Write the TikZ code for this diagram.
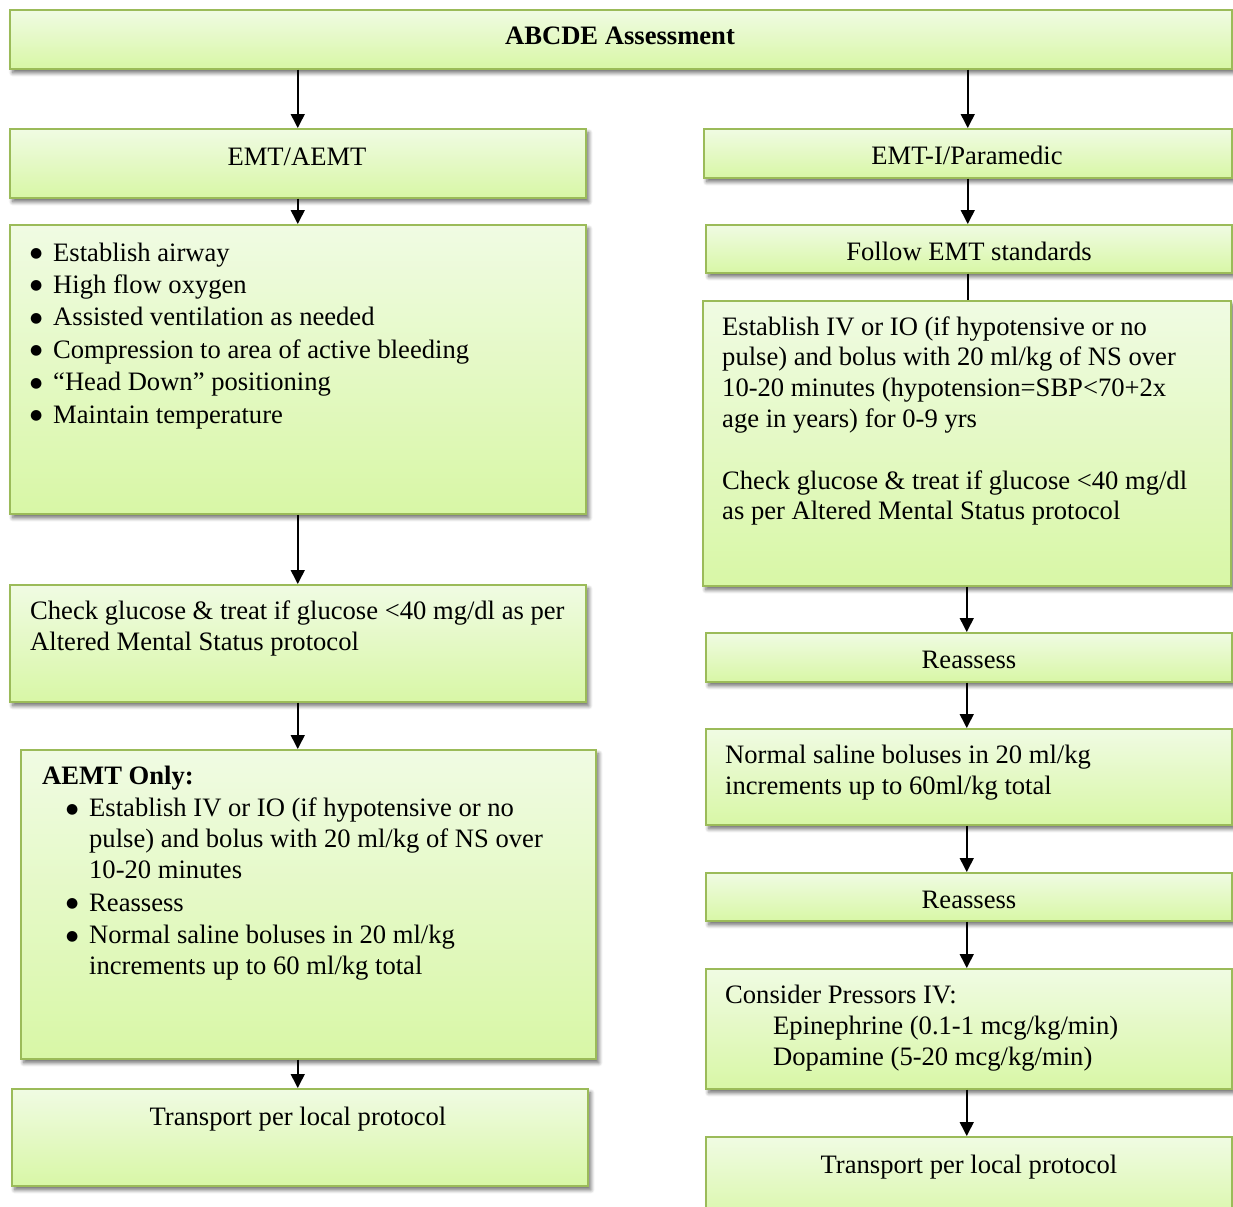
\documentclass[tikz,border=0pt]{standalone}
\usepackage{fontspec}
\setmainfont{Liberation Serif}
\newfontfamily\bulfont{DejaVu Sans}
\usetikzlibrary{arrows.meta,shadows.blur}

\definecolor{boxline}{HTML}{9BBB59}
\definecolor{gtop}{HTML}{F0FBE3}
\definecolor{gbot}{HTML}{D8F7A6}

% round bullet, without height so it does not disturb the lines
\newcommand{\mybul}{\raisebox{3.5bp}[0pt][0pt]{\bulfont\fontsize{14bp}{14bp}\selectfont ●}}
% bullet item: #1 = hanging indent, #2 = offset of the bullet
\newcommand{\bitem}[2]{\noindent\hangindent=#1\hangafter=1\hspace*{#2}\makebox[\dimexpr#1-#2\relax][l]{\mybul}}

\tikzset{
  box/.style={draw=boxline, line width=1.5bp, anchor=north west, inner sep=0pt,
    top color=gtop, bottom color=gbot,
    blur shadow={shadow xshift=3bp, shadow yshift=-4bp, shadow opacity=60,
      shadow blur radius=4bp, shadow blur steps=8}},
  ctext/.style={anchor=base, inner sep=0pt},
  ltext/.style={anchor=base west, inner sep=0pt, text width=#1, align=flush left},
  arr/.style={line width=1.5bp, -{Triangle[width=14bp,length=14bp]}},
  link/.style={line width=1.5bp},
}

\begin{document}
\begin{tikzpicture}[x=1bp, y=-1bp, font=\fontsize{26.6bp}{31bp}\selectfont]
\useasboundingbox (0,0) rectangle (1233,1207);
\clip (0,0) rectangle (1233,1207);

% ---- boxes ----
\node[box, minimum width=1222bp, minimum height=59bp]  (abcde)  at (9,9) {};
\node[box, minimum width=576bp,  minimum height=69bp]  (emt)    at (9,128) {};
\node[box, minimum width=528bp,  minimum height=49bp]  (para)   at (703,128) {};
\node[box, minimum width=576bp,  minimum height=289bp] (acts)   at (9,224) {};
\node[box, minimum width=526bp,  minimum height=48bp]  (follow) at (705,224) {};
\node[box, minimum width=528bp,  minimum height=285bp] (ivbox)  at (702,300) {};
\node[box, minimum width=576bp,  minimum height=117bp] (gluc)   at (9,584) {};
\node[box, minimum width=526bp,  minimum height=49bp]  (reas1)  at (705,632) {};
\node[box, minimum width=575bp,  minimum height=309bp] (aemt)   at (20,749) {};
\node[box, minimum width=526bp,  minimum height=96bp]  (ns)     at (705,728) {};
\node[box, minimum width=526bp,  minimum height=48bp]  (reas2)  at (705,872) {};
\node[box, minimum width=526bp,  minimum height=120bp] (press)  at (705,968) {};
\node[box, minimum width=576bp,  minimum height=97bp]  (trL)    at (11,1088) {};
\node[box, minimum width=526bp,  minimum height=90bp]  (trR)    at (705,1136) {};

% ---- texts ----
\node[ctext] (tabcde) at (620,44) {\textbf{ABCDE Assessment}};
\node[ctext] (temt) at (297,165) {EMT/AEMT};
\node[ctext] (tpara) at (967,164) {EMT-I/Paramedic};
\node[ctext] (tfollow) at (969,260) {Follow EMT standards};
\node[ctext] (treas1) at (969,668) {Reassess};
\node[ctext] (treas2) at (969,908) {Reassess};
\node[ctext] (ttrL) at (298,1125) {Transport per local protocol};
\node[ctext] (ttrR) at (969,1173) {Transport per local protocol};

\node[ltext=545bp, font=\fontsize{26.6bp}{32.4bp}\selectfont] (tacts) at (30,261) {%
  \bitem{23bp}{0bp}Establish airway\par
  \bitem{23bp}{0bp}High flow oxygen\par
  \bitem{23bp}{0bp}Assisted ventilation as needed\par
  \bitem{23bp}{0bp}Compression to area of active bleeding\par
  \bitem{23bp}{0bp}“Head Down” positioning\par
  \bitem{23bp}{0bp}Maintain temperature\par};

\node[ltext=548bp] (tgluc) at (30,619) {%
  Check glucose \& treat if glucose <40 mg/dl as per\newline
  Altered Mental Status protocol};

\node[ltext=545bp] (taemt) at (42,784) {%
  \textbf{AEMT Only:}\par\parskip=1.5bp
  \bitem{47bp}{24bp}Establish IV or IO (if hypotensive or no\newline
    pulse) and bolus with 20 ml/kg of NS over\newline 10-20 minutes\par
  \bitem{47bp}{24bp}Reassess\par
  \bitem{47bp}{24bp}Normal saline boluses in 20 ml/kg\newline
    increments up to 60 ml/kg total\par};

\node[ltext=505bp, font=\fontsize{26.6bp}{30.8bp}\selectfont] (tiv) at (722,335) {%
  Establish IV or IO (if hypotensive or no\newline
  pulse) and bolus with 20 ml/kg of NS over\newline
  10-20 minutes (hypotension=SBP<70+2x\newline
  age in years) for 0-9 yrs\par\vspace{\baselineskip}
  Check glucose \& treat if glucose <40 mg/dl\newline
  as per Altered Mental Status protocol};

\node[ltext=500bp] (tns) at (725,763) {%
  Normal saline boluses in 20 ml/kg\newline
  increments up to 60ml/kg total};

\node[ltext=500bp] (tpress) at (725,1003) {%
  Consider Pressors IV:\newline
  \hspace*{48bp}Epinephrine (0.1-1 mcg/kg/min)\newline
  \hspace*{48bp}Dopamine (5-20 mcg/kg/min)};

% ---- connectors ----
\draw[arr] (emt.north |- abcde.south) -- (emt.north);
\draw[arr] (para.north |- abcde.south) -- (para.north);
\draw[arr] (emt.south) -- (emt.south |- acts.north);
\draw[arr] (acts.south) -- (acts.south |- gluc.north);
\draw[arr] (gluc.south) -- (gluc.south |- aemt.north);
\draw[arr] (gluc.south |- aemt.south) -- (gluc.south |- trL.north);
\draw[arr] (para.south) -- (para.south |- follow.north);
\draw[link] (para.south |- follow.south) -- (para.south |- ivbox.north);
\draw[arr] (ivbox.south) -- (ivbox.south |- reas1.north);
\draw[arr] (ivbox.south |- reas1.south) -- (ivbox.south |- ns.north);
\draw[arr] (ivbox.south |- ns.south) -- (ivbox.south |- reas2.north);
\draw[arr] (ivbox.south |- reas2.south) -- (ivbox.south |- press.north);
\draw[arr] (ivbox.south |- press.south) -- (ivbox.south |- trR.north);
\end{tikzpicture}
\end{document}
